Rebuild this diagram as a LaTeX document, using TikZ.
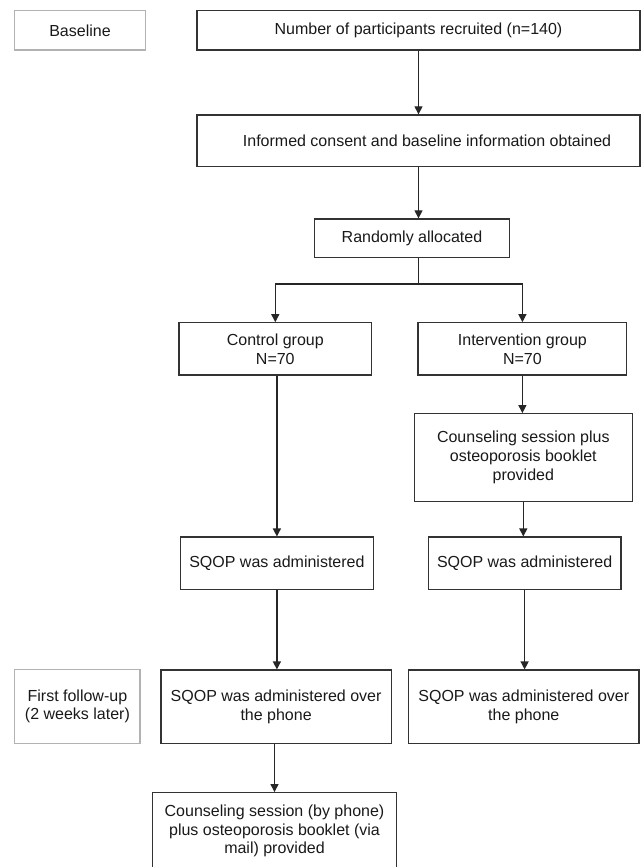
\documentclass[tikz,border=0pt]{standalone}
\usepackage{fontspec}
\setmainfont{Liberation Sans}
\usetikzlibrary{arrows.meta}

\begin{document}
\begin{tikzpicture}[x=0.75pt, y=-0.75pt,
  font=\fontsize{12}{14.1}\selectfont,
  box/.style={draw=black!80, line width=0.9pt, text=black!90, align=center, inner sep=3pt},
  phasebox/.style={draw=black!30, line width=1.1pt, text=black!90, align=center, inner sep=3pt},
  arr/.style={draw=black!85, line width=0.9pt, -{Triangle[length=6pt, width=6pt]}}]

\useasboundingbox (0,0) rectangle (641,867);

% Phase labels
\node[phasebox, minimum width=97.9pt, minimum height=29.5pt] (base) at (80, 30.3) {Baseline};
\node[phasebox, minimum width=94pt, minimum height=55.5pt] (follow) at (77.4, 706.3) {First follow-up\\(2 weeks later)};

% Recruitment and allocation
\node[box, minimum width=332.2pt, minimum height=29.5pt] (recruit) at (418.5, 30.3) {Number of participants recruited (n=140)};
\node[box, minimum width=332.2pt, minimum height=38.8pt] (consent) at (418.5, 140.8) {\hspace*{12.8pt}Informed consent and baseline information obtained};
\node[box, minimum width=146.4pt, minimum height=29pt] (rand) at (412, 238.3) {Randomly allocated};
\coordinate (split) at (418.5, 284);

% Groups
\node[box, minimum width=144.6pt, minimum height=39.2pt] (ctrl) at (275.3, 348.9) {Control group\\N=70};
\node[box, minimum width=156.5pt, minimum height=39.2pt] (intv) at (522.4, 348.9) {Intervention group\\N=70};
\node[box, minimum width=163.7pt, minimum height=65.7pt] (couns) at (523.3, 457.5) {Counseling session plus\\osteoporosis booklet\\provided};

% Baseline questionnaire
\node[box, minimum width=144.6pt, minimum height=39.2pt] (sqopL) at (276.9, 563.2) {SQOP was administered};
\node[box, minimum width=144.6pt, minimum height=39.2pt] (sqopR) at (524.6, 563.2) {SQOP was administered};

% Follow-up
\node[box, minimum width=172.8pt, minimum height=55pt] (phoneL) at (276.1, 706.7) {SQOP was administered over\\the phone};
\node[box, minimum width=172.8pt, minimum height=55pt] (phoneR) at (523.8, 706.7) {SQOP was administered over\\the phone};
\node[box, minimum width=182.6pt, minimum height=57.5pt] (mail) at (274.5, 831) {Counseling session (by phone)\\plus osteoporosis booklet (via\\mail) provided};

% Arrows
\draw[arr] (recruit) -- (consent);
\draw[arr] (consent.south) -- (consent.south |- rand.north);
\draw[draw=black!85, line width=0.9pt] (rand.south -| split) -- (split);
\draw[arr] (split) -| (ctrl.north);
\draw[arr] (split) -| (intv.north);
\draw[arr] (sqopL.north |- ctrl.south) -- (sqopL.north);
\draw[arr] (intv.south) -- (intv.south |- couns.north);
\draw[arr] (couns.south) -- (couns.south |- sqopR.north);
\draw[arr] (sqopL.south) -- (sqopL.south |- phoneL.north);
\draw[arr] (sqopR.south) -- (sqopR.south |- phoneR.north);
\draw[arr] (mail.north |- phoneL.south) -- (mail.north);

\end{tikzpicture}
\end{document}
